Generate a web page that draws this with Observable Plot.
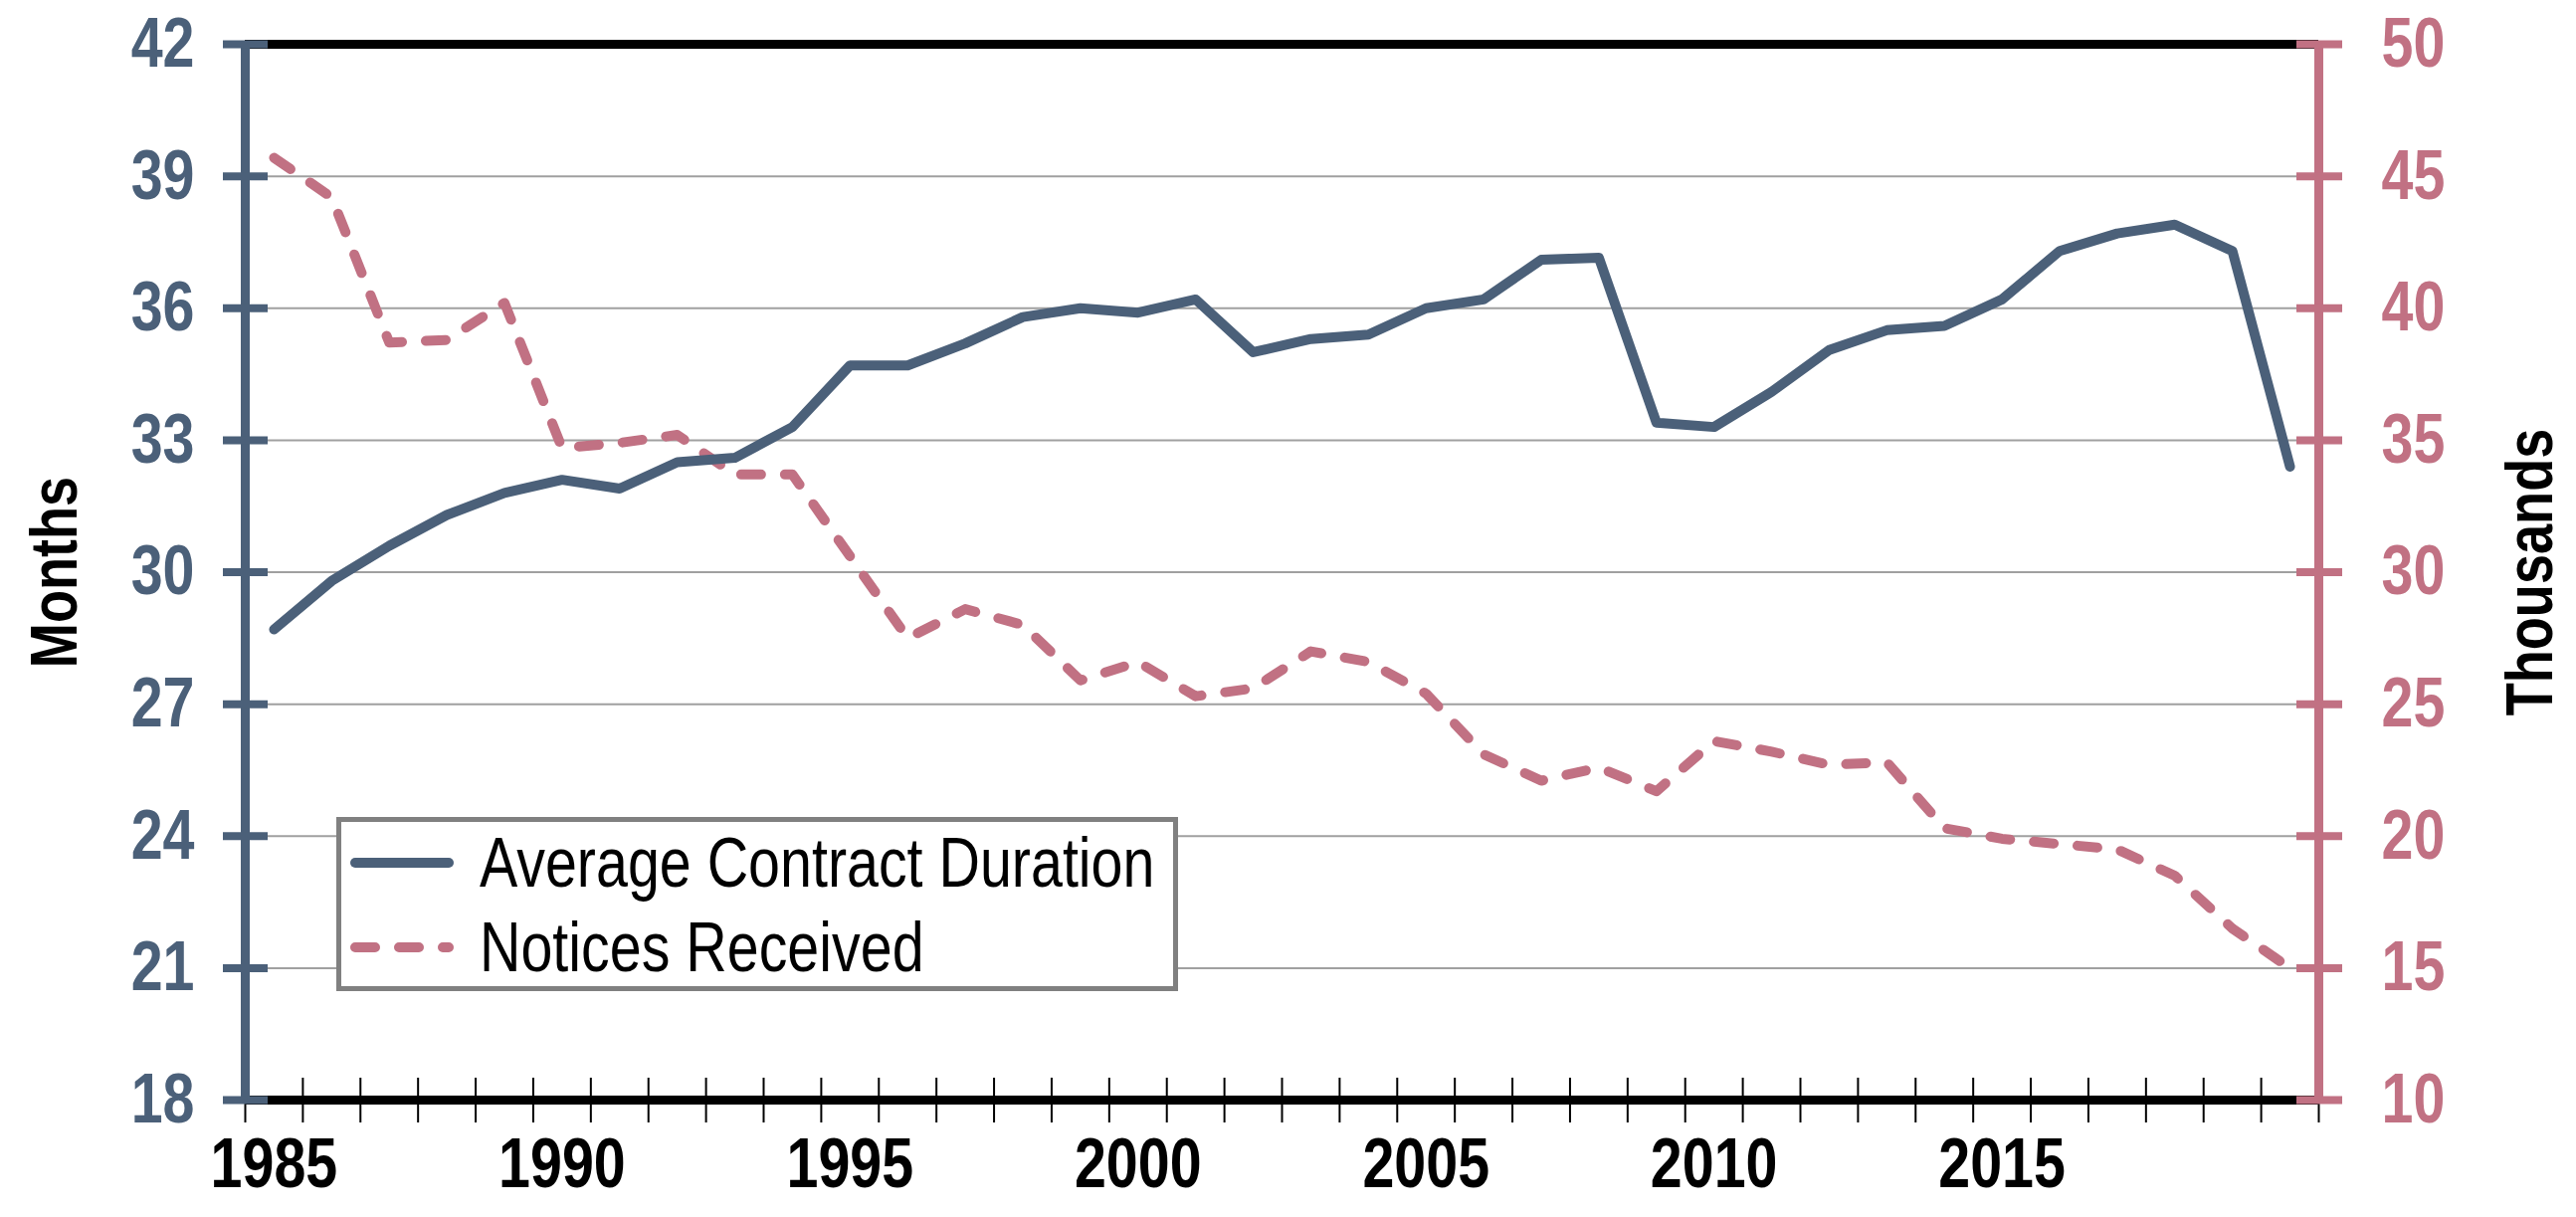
<!DOCTYPE html>
<html>
<head>
<meta charset="utf-8">
<script src="https://cdn.jsdelivr.net/npm/d3@7"></script>
<script src="https://cdn.jsdelivr.net/npm/@observablehq/plot@0.6"></script>
<style>
  html, body { margin: 0; padding: 0; background: #fff; }
  #wrap { position: relative; width: 2589px; height: 1223px; }
  #legend { position: absolute; left: 338px; top: 821px; }
</style>
</head>
<body>
<div id="wrap"></div>
<script>
const years = [1985, 1986, 1987, 1988, 1989, 1990, 1991, 1992, 1993, 1994,
               1995, 1996, 1997, 1998, 1999, 2000, 2001, 2002, 2003, 2004,
               2005, 2006, 2007, 2008, 2009, 2010, 2011, 2012, 2013, 2014,
               2015, 2016, 2017, 2018, 2019, 2020];
// Average Contract Duration (months, left axis)
const duration = [28.7, 29.8, 30.6, 31.3, 31.8, 32.1, 31.9, 32.5, 32.6, 33.3,
                  34.7, 34.7, 35.2, 35.8, 36.0, 35.9, 36.2, 35.0, 35.3, 35.4,
                  36.0, 36.2, 37.1, 37.15, 33.4, 33.3, 34.1, 35.05, 35.5, 35.6,
                  36.2, 37.3, 37.7, 37.9, 37.3, 32.4];
// Notices Received (thousands, right axis)
const notices = [45.7, 44.2, 38.7, 38.8, 40.2, 34.7, 34.9, 35.2, 33.7, 33.7,
                 30.6, 27.5, 28.6, 28.0, 25.9, 26.6, 25.3, 25.6, 27.0, 26.6,
                 25.4, 23.1, 22.1, 22.6, 21.7, 23.6, 23.2, 22.7, 22.8, 20.3,
                 19.9, 19.7, 19.5, 18.5, 16.5, 15.0];
const leftTicks = [18, 21, 24, 27, 30, 33, 36, 39, 42];
const rightTicks = [10, 15, 20, 25, 30, 35, 40, 45, 50];
const xLabels = [1985, 1990, 1995, 2000, 2005, 2010, 2015];
const seriesNames = ["Average Contract Duration", "Notices Received"];

const BLUE = "#4b6079";
const PINK = "#c17183";
const FONT = '"Liberation Sans", Arial, sans-serif';
const NARROW = 0.82; // horizontal squeeze to mimic a narrow typeface

// map right-axis (thousands) domain [10,50] onto left-axis domain [18,42]
const toLeft = t => leftTicks[0] + (t - rightTicks[0]) * (leftTicks[8] - leftTicks[0]) / (rightTicks[8] - rightTicks[0]);

const data = years.map((y, i) => ({year: y, duration: duration[i], notices: notices[i]}));
const x0 = years[0] - 0.5, x1 = years[years.length - 1] + 0.5;
const bounds = years.map(y => y - 0.5).concat([x1]);

const chart = Plot.plot({
  width: 2589,
  height: 1223,
  marginLeft: 246,
  marginRight: 259,
  marginTop: 44,
  marginBottom: 118,
  x: {domain: [x0, x1]},
  y: {domain: [leftTicks[0], leftTicks[8]]},
  style: {fontFamily: FONT, background: "white", overflow: "visible"},
  marks: [
    Plot.ruleY(leftTicks.slice(1, -1), {stroke: "#a0a0a0", strokeWidth: 2}),
    Plot.ruleY([leftTicks[0], leftTicks[8]], {stroke: "black", strokeWidth: 9}),
    Plot.axisX({ticks: bounds, tickSize: 45, dy: -22, tickFormat: () => "", stroke: "black", strokeWidth: 2, label: null}),
    Plot.axisX({ticks: xLabels, tickSize: 0, tickPadding: 38, tickFormat: d => String(d),
                fontSize: 70, fontWeight: "bold", fill: "black", label: null}),
    Plot.lineY(data, {x: "year", y: d => toLeft(d.notices), stroke: PINK, strokeWidth: 10,
                      strokeDasharray: "20,24", strokeLinecap: "round", strokeLinejoin: "round"}),
    Plot.lineY(data, {x: "year", y: "duration", stroke: BLUE, strokeWidth: 10,
                      strokeLinecap: "round", strokeLinejoin: "round"}),
    Plot.ruleX([x0], {y1: leftTicks[0], y2: leftTicks[8], stroke: BLUE, strokeWidth: 9}),
    Plot.ruleX([x1], {y1: leftTicks[0], y2: leftTicks[8], stroke: PINK, strokeWidth: 9}),
    Plot.axisY({anchor: "left", ticks: leftTicks, tickSize: 45, dx: 23, tickPadding: 29,
                stroke: BLUE, strokeWidth: 8, fill: BLUE, fontSize: 70, fontWeight: "bold", label: null}),
    Plot.axisY({anchor: "right", ticks: leftTicks, tickFormat: (m, i) => String(rightTicks[i]),
                tickSize: 46, dx: -23, tickPadding: 40,
                stroke: PINK, strokeWidth: 8, fill: PINK, fontSize: 70, fontWeight: "bold", label: null}),
    Plot.text(["Months"], {frameAnchor: "left", textAnchor: "middle", dx: -191, rotate: -90,
                           fontSize: 66, fontWeight: "bold", fill: "black"}),
    Plot.text(["Thousands"], {frameAnchor: "right", textAnchor: "middle", dx: 213, rotate: -90,
                              fontSize: 66, fontWeight: "bold", fill: "black"})
  ]
});

// squeeze glyphs horizontally around each text's anchor, keeping em-based offsets
function narrow(el, s) {
  const xa = el.getAttribute("x");
  let tx = 0;
  if (xa !== null && /^-?[\d.]+$/.test(xa.trim())) { tx = +xa; el.removeAttribute("x"); }
  const t = el.getAttribute("transform") || "";
  el.setAttribute("transform", `${t} translate(${tx},0) scale(${s},1)`.trim());
}
d3.select(chart).selectAll("text").each(function() { narrow(this, NARROW); });

const wrap = document.getElementById("wrap");
wrap.appendChild(chart);

// Legend box
const lg = d3.select(wrap).append("svg")
  .attr("id", "legend")
  .attr("width", 846).attr("height", 175)
  .style("font-family", FONT);
lg.append("rect").attr("x", 2.5).attr("y", 2.5).attr("width", 841).attr("height", 170)
  .attr("fill", "white").attr("stroke", "#808080").attr("stroke-width", 5);
const rows = [
  {name: seriesNames[0], color: BLUE, dash: null, y: 46},
  {name: seriesNames[1], color: PINK, dash: "20,24", y: 131}
];
rows.forEach(r => {
  lg.append("line").attr("x1", 19).attr("x2", 113).attr("y1", r.y).attr("y2", r.y)
    .attr("stroke", r.color).attr("stroke-width", 10).attr("stroke-linecap", "round")
    .attr("stroke-dasharray", r.dash);
  lg.append("text").attr("transform", `translate(144,${r.y + 24}) scale(${NARROW},1)`)
    .attr("font-size", 70).attr("fill", "black").text(r.name);
});
</script>
</body>
</html>
